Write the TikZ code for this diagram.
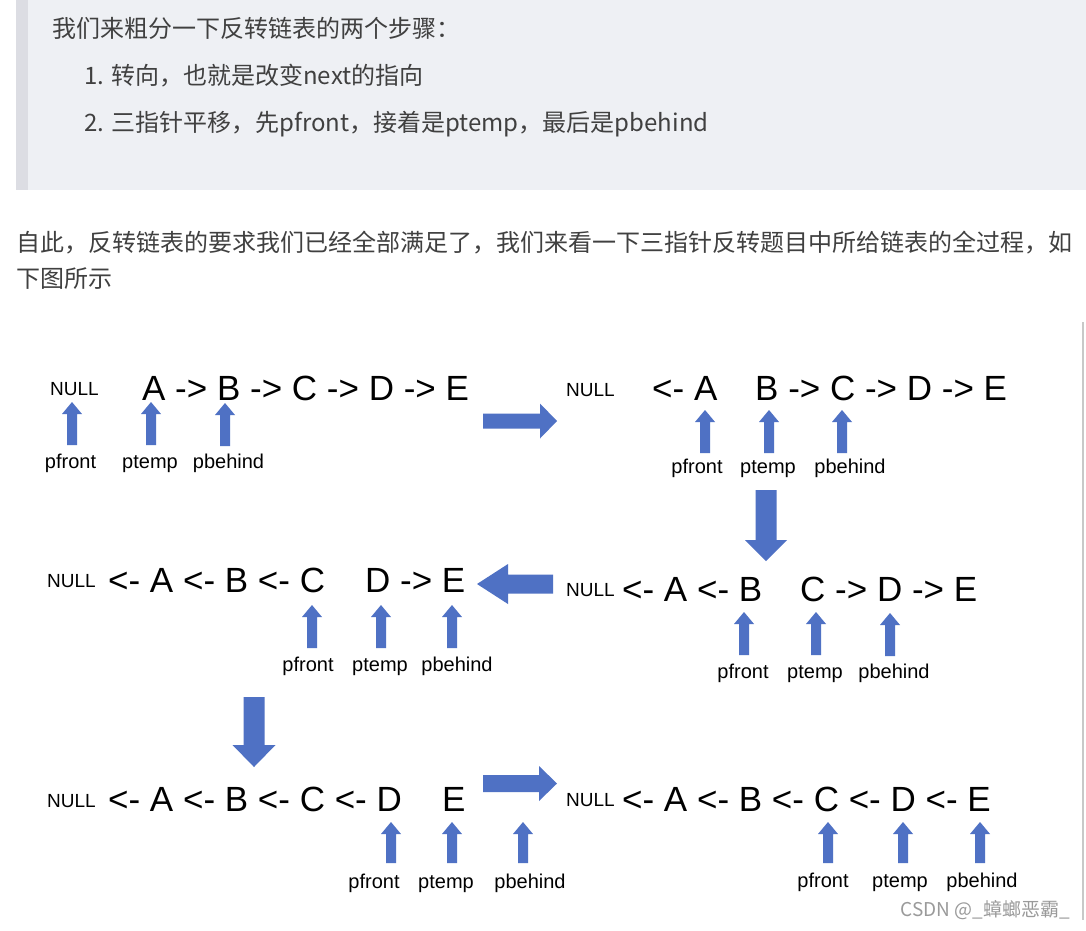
\documentclass[tikz,border=0pt]{standalone}
\usepackage{fontspec}
\setmainfont{Liberation Sans}
\newfontfamily\cjk{Noto Sans CJK SC}
\definecolor{ptrblue}{RGB}{79,113,196}
\definecolor{quotebg}{HTML}{EEF0F4}
\definecolor{quotebar}{HTML}{DCDDE3}
\definecolor{txtgray}{HTML}{404040}
\definecolor{edgegray}{HTML}{C8C8C8}
\definecolor{wmgray}{HTML}{9A9A9A}
\begin{document}
\begin{tikzpicture}[x=1pt,y=-1pt,
  big/.style={font=\fontsize{35}{40}\selectfont, inner sep=0pt, anchor=base west},
  nul/.style={font=\fontsize{19}{22}\selectfont, inner sep=0pt, anchor=base west},
  lbl/.style={font=\fontsize{20}{24}\selectfont, inner sep=0pt, anchor=base},
  cjktext/.style={font=\cjk\fontsize{24}{28}\selectfont, inner sep=0pt, anchor=west, text=txtgray},
  pics/ptrarrow/.style={code={\fill[ptrblue] (-5,#1) -- (-5,12) -- (-10,12) -- (0,0) -- (10,12) -- (5,12) -- (5,#1) -- cycle;}}
]
\useasboundingbox (0,0) rectangle (1086,930);
\fill[white] (0,0) rectangle (1086,930);
% quote block
\fill[quotebg] (16,0) rectangle (1086,190);
\fill[quotebar] (16,0) rectangle (28,190);
\node[cjktext] (t1) at (52,28) {我们来粗分一下反转链表的两个步骤：};
\node[cjktext] (t2) at (84,76) {1. 转向，也就是改变next的指向};
\node[cjktext] (t3) at (84,124) {2. 三指针平移，先pfront，接着是ptemp，最后是pbehind};
\node[cjktext] (t4) at (16,243) {自此，反转链表的要求我们已经全部满足了，我们来看一下三指针反转题目中所给链表的全过程，如};
\node[cjktext] (t5) at (16,279) {下图所示};
% right edge of figure
\draw[edgegray, line width=1.5pt] (1083,322) -- (1083,920);

% ---------- panel 1 ----------
\node[nul] (n1) at (50,395) {NULL};
\node[big] (s1) at (142,400) {A -> B -> C -> D -> E};
\pic at (72,402) {ptrarrow=43};
\pic at (151,402) {ptrarrow=43};
\pic at (225,403) {ptrarrow=43};
\node[lbl] (f1) at (70.5,468) {pfront};
\node[lbl] (m1) at (150,468) {ptemp};
\node[lbl] (b1) at (228.5,468) {pbehind};
\fill[ptrblue] (483,413.5) -- (540,413.5) -- (540,403.5) -- (557,421) -- (540,438.5) -- (540,428.5) -- (483,428.5) -- cycle;

% ---------- panel 2 ----------
\node[nul] (n2) at (566,396) {NULL};
\node[big] (s2a) at (652,400) {<- A};
\node[big] (s2b) at (755,400) {B -> C -> D -> E};
\pic at (705,410) {ptrarrow=43};
\pic at (769,410) {ptrarrow=43};
\pic at (842,410) {ptrarrow=43};
\node[lbl] (f2) at (697,473) {pfront};
\node[lbl] (m2) at (768,473) {ptemp};
\node[lbl] (b2) at (850,473) {pbehind};
\fill[ptrblue] (755.5,490) -- (776.5,490) -- (776.5,540) -- (787,540) -- (766,561) -- (745,540) -- (755.5,540) -- cycle;

% ---------- panel 3 ----------
\node[nul] (n3) at (566,596) {NULL};
\node[big] (s3a) at (622,601) {<- A <- B};
\node[big] (s3b) at (800,601) {C -> D -> E};
\pic at (744,612) {ptrarrow=43};
\pic at (816,612) {ptrarrow=43};
\pic at (890,613) {ptrarrow=43};
\node[lbl] (f3) at (743,678) {pfront};
\node[lbl] (m3) at (815,678) {ptemp};
\node[lbl] (b3) at (894,678) {pbehind};
\fill[ptrblue] (553,574.5) -- (508,574.5) -- (508,564) -- (477,584) -- (508,604) -- (508,593.5) -- (553,593.5) -- cycle;

% ---------- panel 4 ----------
\node[nul] (n4) at (47,587) {NULL};
\node[big] (s4a) at (108,592) {<- A <- B <- C};
\node[big] (s4b) at (365,592) {D -> E};
\pic at (312,605) {ptrarrow=43};
\pic at (381,605) {ptrarrow=43};
\pic at (452,605) {ptrarrow=43};
\node[lbl] (f4) at (308,671) {pfront};
\node[lbl] (m4) at (380,671) {ptemp};
\node[lbl] (b4) at (457,671) {pbehind};
\fill[ptrblue] (243.5,697) -- (264.5,697) -- (264.5,745) -- (275.5,745) -- (254,767) -- (232.5,745) -- (243.5,745) -- cycle;

% ---------- panel 5 ----------
\node[nul] (n5) at (47,807) {NULL};
\node[big] (s5a) at (108,811) {<- A <- B <- C <- D};
\node[big] (s5b) at (442,811) {E};
\pic at (391,822) {ptrarrow=41};
\pic at (452,822) {ptrarrow=41};
\pic at (523,822) {ptrarrow=41};
\node[lbl] (f5) at (374,888) {pfront};
\node[lbl] (m5) at (446,888) {ptemp};
\node[lbl] (b5) at (530,888) {pbehind};
\fill[ptrblue] (483,775) -- (539,775) -- (539,766) -- (557,783.5) -- (539,801) -- (539,792) -- (483,792) -- cycle;

% ---------- panel 6 ----------
\node[nul] (n6) at (566,806) {NULL};
\node[big] (s6) at (622,811) {<- A <- B <- C <- D <- E};
\pic at (828,822) {ptrarrow=41};
\pic at (903,822) {ptrarrow=41};
\pic at (980,822) {ptrarrow=41};
\node[lbl] (f6) at (823,887) {pfront};
\node[lbl] (m6) at (900,887) {ptemp};
\node[lbl] (b6) at (982,887) {pbehind};

% watermark
\node[font=\cjk\fontsize{19}{22}\selectfont, text=wmgray, inner sep=0pt, anchor=east] (wm) at (1070,910) {CSDN @\_蟑螂恶霸\_};
\end{tikzpicture}
\end{document}
